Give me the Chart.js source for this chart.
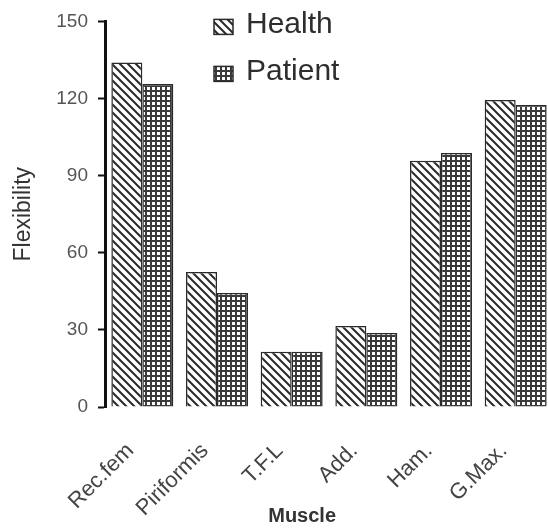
<!DOCTYPE html>
<html>
<head>
<meta charset="utf-8">
<script src="https://cdn.jsdelivr.net/npm/chart.js@4/dist/chart.umd.min.js"></script>
<style>
  html, body { margin: 0; padding: 0; background: #fff; overflow: hidden; }
  canvas { display: block; }
</style>
</head>
<body>
<canvas id="c" width="560" height="528"></canvas>
<script>
// ---- data ----
const categories = ['Rec.fem', 'Piriformis', 'T.F.L', 'Add.', 'Ham.', 'G.Max.'];
const healthValues = [134, 52.5, 21.5, 31.5, 95.8, 119.4];
const patientValues = [125.6, 44.3, 21.5, 28.8, 98.8, 117.5];
const seriesNames = ['Health', 'Patient'];
const yTicks = [0, 30, 60, 90, 120, 150];

// ---- fill patterns ----
function stripePattern() {
  const s = 8;
  const cv = document.createElement('canvas');
  cv.width = s; cv.height = s;
  const g = cv.getContext('2d');
  g.fillStyle = '#fff'; g.fillRect(0, 0, s, s);
  g.strokeStyle = '#2a2a2a'; g.lineWidth = 2;
  g.beginPath();
  g.moveTo(-2, -2); g.lineTo(s + 2, s + 2);
  g.moveTo(-s / 2 - 2, s / 2 - 2); g.lineTo(s / 2 + 2, s * 1.5 + 2);
  g.moveTo(s / 2 - 2, -s / 2 - 2); g.lineTo(s * 1.5 + 2, s / 2 + 2);
  g.stroke();
  return g.createPattern(cv, 'repeat');
}
function gridPattern() {
  const s = 5;
  const cv = document.createElement('canvas');
  cv.width = s; cv.height = s;
  const g = cv.getContext('2d');
  g.fillStyle = '#3a3a3a'; g.fillRect(0, 0, s, s);
  g.fillStyle = '#ffffff'; g.fillRect(2, 2, 3, 3);
  return g.createPattern(cv, 'repeat');
}
const fills = [stripePattern(), gridPattern()];

// ---- custom legend + x title ----
const extras = {
  id: 'extras',
  afterDraw(chart) {
    const ctx = chart.ctx;
    const ca = chart.chartArea;
    ctx.save();
    // legend
    const lx = ca.left + 109;
    const rows = [ca.top - 2, ca.top + 45];
    chart.data.datasets.forEach((ds, i) => {
      const by = rows[i];
      ctx.fillStyle = ds.backgroundColor;
      ctx.fillRect(lx, by, 19, 15);
      ctx.strokeStyle = '#2a2a2a';
      ctx.lineWidth = 1.5;
      ctx.strokeRect(lx, by, 19, 15);
      ctx.fillStyle = '#2e2e2e';
      ctx.font = '30px "Liberation Sans", Arial, sans-serif';
      ctx.textBaseline = 'alphabetic';
      ctx.textAlign = 'left';
      ctx.fillText(ds.label, lx + 32, by + 14);
    });
    // x axis title
    ctx.fillStyle = '#333';
    ctx.font = 'bold 20px "Liberation Sans", Arial, sans-serif';
    ctx.textAlign = 'center';
    ctx.textBaseline = 'middle';
    ctx.fillText('Muscle', ca.left + (ca.right - ca.left) * 0.44, chart.height - 12);
    ctx.restore();
  }
};

new Chart(document.getElementById('c'), {
  type: 'bar',
  data: {
    labels: categories,
    datasets: [
      { label: seriesNames[0], data: healthValues, backgroundColor: fills[0],
        borderColor: '#2a2a2a', borderWidth: 1.5 },
      { label: seriesNames[1], data: patientValues, backgroundColor: fills[1],
        borderColor: '#2a2a2a', borderWidth: 1.5 }
    ]
  },
  options: {
    responsive: false,
    animation: false,
    layout: { padding: { top: 20, right: 7, bottom: 0, left: 0 } },
    plugins: { legend: { display: false }, tooltip: { enabled: false } },
    datasets: { bar: { categoryPercentage: 0.83, barPercentage: 1.0 } },
    scales: {
      x: {
        grid: { display: false },
        border: { display: false },
        ticks: {
          minRotation: 45, maxRotation: 45, padding: 23, labelOffset: -12,
          color: '#444',
          font: { family: '"Liberation Sans", Arial, sans-serif', size: 22 }
        },
        afterFit(scale) { scale.height = 121; }
      },
      y: {
        min: 0, max: 150,
        afterBuildTicks(scale) { scale.ticks = yTicks.map(v => ({ value: v })); },
        grid: { display: true, drawOnChartArea: false, tickLength: 7, tickWidth: 2, tickColor: '#111' },
        border: { display: true, color: '#111', width: 3 },
        ticks: {
          padding: 10, color: '#555',
          font: { family: '"Liberation Sans", Arial, sans-serif', size: 19 }
        },
        title: {
          display: true, text: 'Flexibility', color: '#333',
          font: { family: '"Liberation Sans", Arial, sans-serif', size: 23 },
          padding: { top: 10, bottom: 0 }
        },
        afterFit(scale) { scale.width = 105; }
      }
    }
  },
  plugins: [extras]
});
</script>
</body>
</html>
